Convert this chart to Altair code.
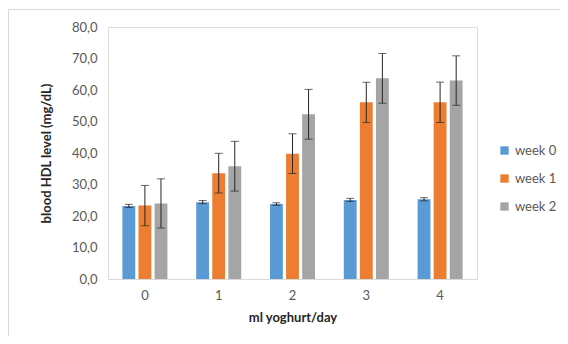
import altair as alt
import pandas as pd

groups = ["0", "1", "2", "3", "4"]
weeks = ["week 0", "week 1", "week 2"]
week0 = [23.2, 24.4, 23.8, 25.1, 25.3]
week1 = [23.3, 33.6, 39.8, 56.1, 56.1]
week2 = [24.0, 35.8, 52.3, 63.7, 63.0]
err0 = [0.5, 0.5, 0.4, 0.5, 0.5]
err1 = [6.4, 6.3, 6.3, 6.4, 6.4]
err2 = [7.8, 7.9, 7.9, 7.9, 7.85]
y_ticks = [0, 10, 20, 30, 40, 50, 60, 70, 80]

rows = []
for i, g in enumerate(groups):
    for w, vals, errs in zip(weeks, [week0, week1, week2], [err0, err1, err2]):
        rows.append({"group": g, "week": w, "value": vals[i], "err": errs[i]})
df = pd.DataFrame(rows)

FONT = "Lato"
colors = ["#5B9BD5", "#ED7D31", "#A5A5A5"]

x = alt.X("group:N", sort=groups,
          scale=alt.Scale(paddingInner=0.39, paddingOuter=0.195),
          axis=alt.Axis(title="ml yoghurt/day", labelAngle=0, ticks=False,
                        domainColor="#D9D9D9", labelColor="#595959",
                        labelFontSize=13, labelPadding=10, titlePadding=9,
                        titleFontSize=13, titleFontWeight="bold", titleColor="#262626"))
xo = alt.XOffset("week:N", sort=weeks, scale=alt.Scale(paddingInner=0.2))

yscale = alt.Scale(domain=[0, 80])
yaxis = alt.Axis(title="blood HDL level (mg/dL)", values=y_ticks,
                 labelExpr="replace(format(datum.value, '.1f'), '.', ',')",
                 labelOverlap=False,
                 domain=False, ticks=False, grid=False,
                 labelColor="#595959", labelFontSize=13, labelPadding=11,
                 titlePadding=18, titleFontSize=13, titleFontWeight="bold",
                 titleColor="#262626")

base = alt.Chart(df)

bars = base.mark_bar().encode(
    x=x, xOffset=xo,
    y=alt.Y("value:Q", scale=yscale, axis=yaxis),
    color=alt.Color("week:N", sort=weeks, scale=alt.Scale(domain=weeks, range=colors),
                    legend=alt.Legend(title=None, orient="none", legendX=390, legendY=117,
                                      symbolType="square", symbolSize=70, symbolStrokeWidth=0,
                                      labelFontSize=13, labelColor="#595959", rowPadding=14,
                                      labelFont=FONT)),
)

errs = base.transform_calculate(
    lo="datum.value - datum.err", hi="datum.value + datum.err"
)
rule = errs.mark_rule(color="#262626", strokeWidth=1).encode(
    x=x, xOffset=xo, y=alt.Y("lo:Q", scale=yscale, axis=yaxis), y2="hi:Q")
cap_lo = errs.mark_tick(color="#262626", thickness=1, size=8).encode(
    x=x, xOffset=xo, y=alt.Y("lo:Q", scale=yscale, axis=yaxis))
cap_hi = errs.mark_tick(color="#262626", thickness=1, size=8).encode(
    x=x, xOffset=xo, y=alt.Y("hi:Q", scale=yscale, axis=yaxis))

frame_left = alt.Chart(pd.DataFrame({"a": [0]})).mark_rule(color="#D9D9D9", strokeWidth=1).encode(
    x=alt.value(-99.5), y=alt.value(-17.5), y2=alt.value(330))
frame_top = alt.Chart(pd.DataFrame({"a": [0]})).mark_rule(color="#D9D9D9", strokeWidth=1).encode(
    x=alt.value(-99.5), x2=alt.value(470), y=alt.value(-17.5))

chart = alt.layer(bars, rule, cap_lo, cap_hi, frame_left, frame_top).properties(
    width=369, height=252,
    autosize=alt.AutoSizeParams(type="none"),
    padding={"left": 100, "top": 19, "right": 83, "bottom": 57},
).configure_view(stroke=None).configure(font=FONT)

chart.save("out.html", embed_options={"renderer": "svg", "actions": False})
